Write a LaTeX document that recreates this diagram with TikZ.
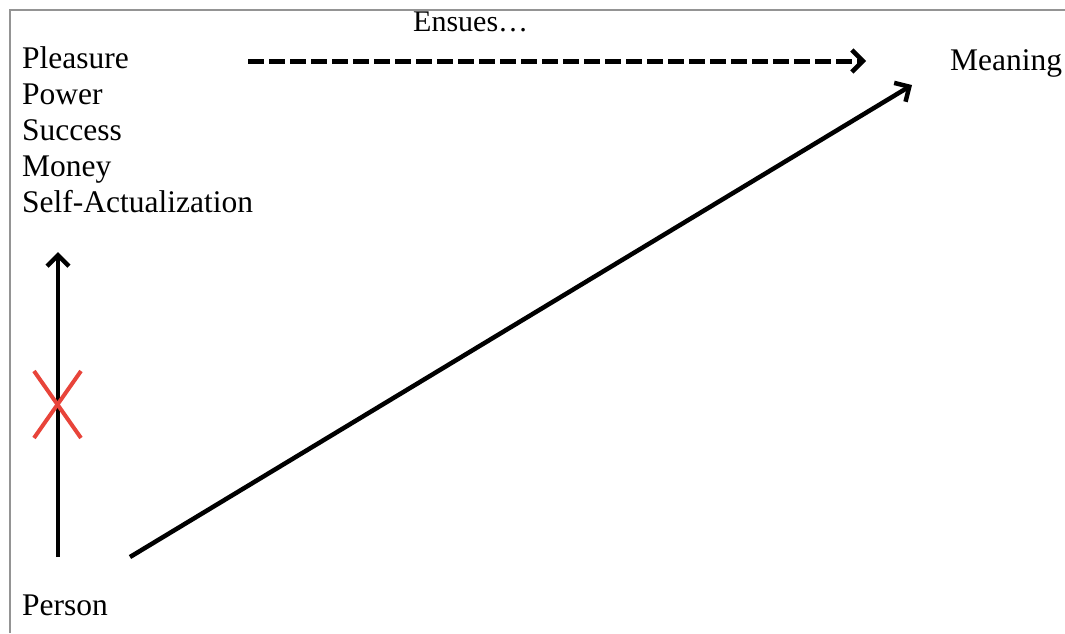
\documentclass[tikz,border=0pt]{standalone}
\usepackage{fontspec}
\setmainfont{Liberation Serif}
\usetikzlibrary{arrows.meta}
\begin{document}
\begin{tikzpicture}[x=1pt,y=-1pt,
  lbl/.style={anchor=base west,inner sep=0pt,font=\fontsize{31.5}{36}\selectfont},
  conn/.style={line width=4.5pt,black,-{Straight Barb[length=11pt,width=22pt,line width=4.5pt]}},
  frameline/.style={line width=1.6pt,color=black!42},
  cross/.style={line width=4pt,color={rgb,255:red,232;green,68;blue,58}}]
\useasboundingbox (0,0) rectangle (1065,633);
% frame
\draw[frameline] (10,633) -- (10,10) -- (1065,10);
% texts
\node[lbl] (pleasure) at (22,68) {Pleasure};
\node[lbl] (power) at (22,104) {Power};
\node[lbl] (success) at (22,140) {Success};
\node[lbl] (money) at (22,176) {Money};
\node[lbl] (selfact) at (22,212) {Self-Actualization};
\node[lbl] (meaning) at (950,70) {Meaning};
\node[lbl,font=\fontsize{30}{36}\selectfont] (ensues) at (413,31) {Ensues…};
\node[lbl] (person) at (22,615) {Person};
% connector end points
\coordinate (vstart) at (58,557);
\coordinate (vend) at (58,252);
\coordinate (dstart) at (130,557);
\coordinate (dend) at (912,85);
\coordinate (hstart) at (248,61);
\coordinate (hend) at (866,61);
% arrows
\draw[conn] (vstart) -- (vend);
\draw[conn] (dstart) -- (dend);
\draw[conn,line width=5pt,dash pattern=on 16pt off 5pt] (hstart) -- (hend);
% red cross
\coordinate (xc) at (58,404);
\draw[cross] (34,371) -- (81,438);
\draw[cross] (81,371) -- (34,438);
\end{tikzpicture}
\end{document}
